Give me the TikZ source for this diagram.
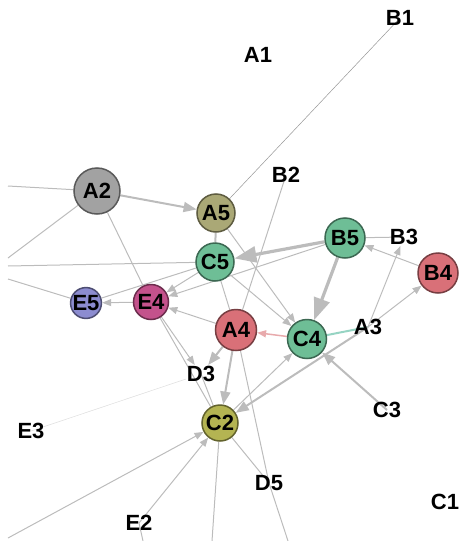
\documentclass[tikz,border=0pt]{standalone}
\usepackage{fontspec}
\setmainfont{Liberation Sans}
\usepackage{xcolor}
\usetikzlibrary{arrows.meta, backgrounds}
\definecolor{edgegray}{RGB}{188, 188, 188}
\definecolor{nodegray}{RGB}{162, 162, 162}
\definecolor{olive}{RGB}{170, 168, 118}
\definecolor{mint}{RGB}{110, 190, 150}
\definecolor{rose}{RGB}{217, 112, 120}
\definecolor{plum}{RGB}{196, 82, 140}
\definecolor{lavender}{RGB}{140, 140, 208}
\definecolor{pear}{RGB}{180, 180, 82}
\definecolor{tealline}{RGB}{150, 212, 195}
\definecolor{pinkline}{RGB}{232, 170, 172}

\begin{document}
\begin{tikzpicture}[x=1pt, y=-1pt,
    gnode/.style={circle, draw=#1!55!black, fill=#1, line width=1.5pt, inner sep=0pt, minimum size=38pt, font=\fontsize{22}{24}\selectfont\bfseries},
    lnode/.style={inner sep=1pt, font=\fontsize{22}{24}\selectfont\bfseries},
    edge/.style={draw=edgegray, line width=1pt, >={Triangle[length=9pt, width=7pt]}},
    heavy/.style={draw=edgegray, line width=2pt, >={Triangle[length=13pt, width=10pt]}},
    heaviest/.style={draw=edgegray, line width=3.2pt, >={Triangle[length=22pt, width=16pt]}},
    faint/.style={draw=edgegray!45, line width=0.6pt},
    thinedge/.style={draw=edgegray!80!black, line width=0.5pt}]

    \useasboundingbox (0,0) rectangle (461,541);

    % Nodes
    \node[gnode=nodegray, minimum size=46pt] (A2) at (97,191) {A2};
    \node[gnode=olive] (A5) at (216,213) {A5};
    \node[gnode=mint] (C5) at (215,262) {C5};
    \node[gnode=mint, minimum size=40pt] (B5) at (345,238) {B5};
    \node[gnode=rose, minimum size=40pt] (B4) at (438,273) {B4};
    \node[gnode=lavender, minimum size=27pt] (E5) at (86,303) {E5};
    \node[gnode=plum, minimum size=35pt] (E4) at (151,302) {E4};
    \node[gnode=rose, minimum size=41pt] (A4) at (236,330) {A4};
    \node[gnode=mint, minimum size=39pt] (C4) at (307,339) {C4};
    \node[gnode=pear, minimum size=36pt] (C2) at (220,423) {C2};

    % Labels without circles
    \node[lnode] (A1) at (258,55) {A1};
    \node[lnode] (B1) at (400,18) {B1};
    \node[lnode] (B2) at (286,175) {B2};
    \node[lnode] (B3) at (404,237) {B3};
    \node[lnode] (A3) at (368,327) {A3};
    \node[lnode] (D3) at (201,374) {D3};
    \node[lnode] (C3) at (387,410) {C3};
    \node[lnode] (E3) at (31,431) {E3};
    \node[lnode] (D5) at (269,483) {D5};
    \node[lnode] (E2) at (139,523) {E2};
    \node[lnode] (C1) at (445,502) {C1};

    % Ends outside the frame
    \coordinate (w1) at (8,186);
    \coordinate (w2) at (8,258);
    \coordinate (w3) at (8,266);
    \coordinate (w4) at (8,279);
    \coordinate (w5) at (8,538);
    \coordinate (s1) at (212,541);
    \coordinate (s2) at (288,541);
    \coordinate (s3) at (143,541);

    % Links
    \begin{scope}[on background layer]
    \draw[edge] (w1) -- (A2);
    \draw[edge] (w2) -- (A2);
    \draw[edge] (w3) -- (C5);
    \draw[edge] (w4) -- (E5);
    \draw[thinedge] (B1.center) -- (A5);
    \draw[heavy, ->] (A2) -- (A5);
    \draw[edge] (A2) -- (E4);
    \draw[edge, ->] (E4) -- (E5);
    \draw[edge, ->] (C5) -- (E4);
    \draw[edge] (C5) -- (E5);
    \draw[edge, ->] (B5) -- (E4);
    \draw[heavy] (A5) -- (C5);
    \draw[edge, ->] (A5) -- (C4);
    \draw[edge, ->] (C5) -- (C4);
    \draw[heaviest, ->] (B5) -- (C5);
    \draw[heaviest, ->] (B5) -- (C4);
    \draw[edge, ->] (B4) -- (B5);
    \draw[edge] (B3.center) -- (B5);
    \draw[edge, ->] (A3.center) -- (B4);
    \draw[edge, ->] (A3.center) -- (B3);
    \draw[edge, draw=tealline, line width=2pt] (A3.center) -- (C4);
    \draw[heavy, ->] (A3.center) -- (C2);
    \draw[edge, draw=pinkline, line width=1.5pt, ->] (C4) -- (A4);
    \draw[heavy, ->] (C3.center) -- (C4);
    \draw[edge, ->] (C2) -- (C4);
    \draw[heavy, ->] (A4) -- (C2);
    \draw[heavy, ->] (A4) -- (D3);
    \draw[edge, ->] (A4) -- (E4);
    \draw[edge] (C5) -- (A4);
    \draw[edge] (B2.center) -- (A4);
    \draw[edge, ->] (E4) -- (D3);
    \draw[edge] (E4) -- (C2);
    \draw[edge] (D3.center) -- (C2);
    \draw[faint] (E3.center) -- (D3);
    \draw[edge] (A4) -- (D5.center) -- (s2);
    \draw[edge] (C2) -- (D5.center);
    \draw[edge] (C2) -- (s1);
    \draw[edge, ->] (E2.center) -- (C2);
    \draw[edge] (E2.center) -- (s3);
    \draw[edge, ->] (w5) -- (C2);
    \end{scope}
\end{tikzpicture}
\end{document}
